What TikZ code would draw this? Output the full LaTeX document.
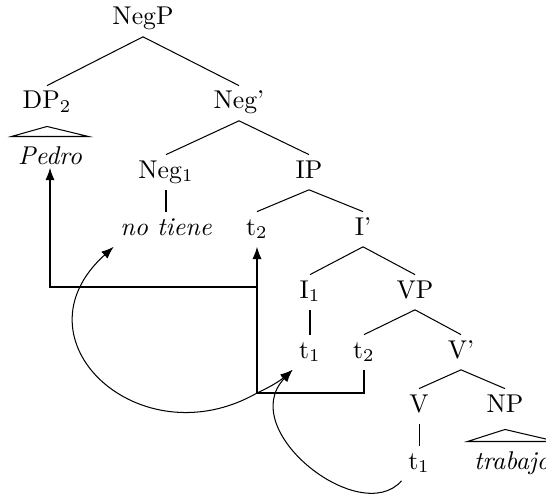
\documentclass[tikz,border=0pt]{standalone}
\usetikzlibrary{arrows.meta}
\tikzset{
  syncat/.style={anchor=base,text height=6.5pt,text depth=2pt,inner sep=2.4pt},
  word/.style={syncat,font=\itshape},
  roofed/.style={word,inner ysep=4pt},
  arrow/.style={-Latex}
}

\begin{document}
\begin{tikzpicture}[x=0.3891pt,y=-0.3891pt]
      \useasboundingbox (0,0) rectangle (546,496);
      \node[syncat] (negp) at (143,25) {NegP};
      \node[syncat] (dp) at (47,109) {DP$_2$};
      \node[syncat] (negbar) at (239,109) {Neg'};
      \node[roofed] (pedro) at (50,164) {Pedro};
      \node[syncat] (neg) at (166,178) {Neg$_1$};
      \node[syncat] (ip) at (309,178) {IP};
      \node[word] (notiene) at (166,235) {no tiene};
      \node[syncat] (t2up) at (257,235) {t$_2$};
      \node[syncat] (ibar) at (363,235) {I'};
      \node[syncat] (infl) at (310,298) {I$_1$};
      \node[syncat] (vp) at (415,298) {VP};
      \node[syncat] (t1mid) at (310,358) {t$_1$};
      \node[syncat] (t2low) at (364,358) {t$_2$};
      \node[syncat] (vbar) at (461,358) {V'};
      \node[syncat] (verb) at (419,412) {V};
      \node[syncat] (np) at (505,412) {NP};
      \node[syncat] (t1low) at (419,469) {t$_1$};
      \node[roofed] (trabajo) at (512,469) {trabajo};
      \coordinate (hub) at (257,393);
      \coordinate (fork) at (257,287);

      \draw (negp.south) -- (dp.north);
      \draw (negp.south) -- (negbar.north);
      \draw ([yshift=-2.2pt]dp.south) -- (pedro.north east) -- (pedro.north west) -- cycle;
      \draw (negbar.south) -- (neg.north);
      \draw (negbar.south) -- (ip.north);
      \draw (neg.south) -- (notiene.north);
      \draw (ip.south) -- (t2up.north);
      \draw (ip.south) -- (ibar.north);
      \draw (ibar.south) -- (infl.north);
      \draw (ibar.south) -- (vp.north);
      \draw (infl.south) -- (t1mid.north);
      \draw (vp.south) -- (t2low.north);
      \draw (vp.south) -- (vbar.north);
      \draw (vbar.south) -- (verb.north);
      \draw (vbar.south) -- (np.north);
      \draw (verb.south) -- (t1low.north);
      \draw ([yshift=-2.2pt]np.south) -- (trabajo.north east) -- (trabajo.north west) -- cycle;

      \draw[arrow] (t2low.south) |- (hub) -- (t2up.south);
      \draw[arrow] (fork) -| ([yshift=-1.5pt]pedro.base);
      \draw[arrow] (hub) .. controls (140,460) and (10,340) .. (notiene.south west);
      \draw[arrow] (hub) to[bend right=8] (t1mid.south west);
      \draw[arrow] (t1low.south west) .. controls (360,528) and (235,430) .. (t1mid.south west);
    \end{tikzpicture}
\end{document}
